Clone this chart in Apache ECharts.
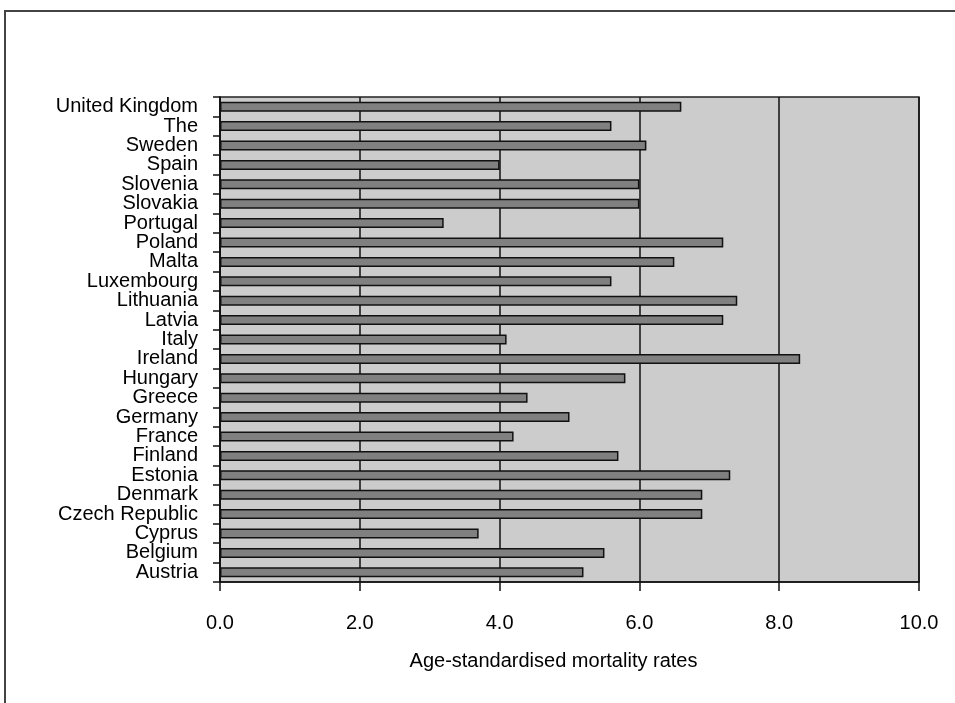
<!DOCTYPE html>
<html>
<head>
<meta charset="utf-8">
<script src="https://cdn.jsdelivr.net/npm/echarts@6/dist/echarts.min.js"></script>
<style>html,body{margin:0;padding:0;background:#fff;}#c{width:955px;height:703px;}</style>
</head>
<body>
<div id="c"></div>
<script>
var categories = ["Austria","Belgium","Cyprus","Czech Republic","Denmark","Estonia","Finland","France","Germany","Greece","Hungary","Ireland","Italy","Latvia","Lithuania","Luxembourg","Malta","Poland","Portugal","Slovakia","Slovenia","Spain","Sweden","The","United Kingdom"];
var rates = [5.2,5.5,3.7,6.9,6.9,7.3,5.7,4.2,5.0,4.4,5.8,8.3,4.1,7.2,7.4,5.6,6.5,7.2,3.2,6.0,6.0,4.0,6.1,5.6,6.6];
var xTicks = [0, 2, 4, 6, 8, 10];
var axisTitle = "Age-standardised mortality rates";

var font = "'Liberation Sans', Arial, Helvetica, sans-serif";
var chart = echarts.init(document.getElementById('c'), null, {renderer: 'canvas'});
chart.setOption({
  animation: false,
  backgroundColor: '#ffffff',
  graphic: [{
    type: 'rect', silent: true, z: -10,
    shape: {x: 5, y: 11, width: 1200, height: 1200},
    style: {fill: null, stroke: '#444', lineWidth: 2}
  }],
  grid: {
    left: 220, top: 97, right: 36, bottom: 121,
    show: true, backgroundColor: '#cccccc', borderColor: '#222', borderWidth: 1.5
  },
  xAxis: {
    type: 'value', min: xTicks[0], max: xTicks[xTicks.length - 1], interval: 2,
    name: axisTitle, nameLocation: 'middle', nameGap: 69,
    nameTextStyle: {color: '#000', fontSize: 20, fontFamily: font, padding: [0, 32, 0, 0]},
    axisLine: {show: true, lineStyle: {color: '#111', width: 1.5}},
    axisTick: {show: true, length: 9, lineStyle: {color: '#111', width: 1.5}},
    axisLabel: {color: '#000', fontSize: 20, fontFamily: font, margin: 31,
      formatter: function (v) { return v.toFixed(1); }},
    splitLine: {show: true, lineStyle: {color: '#111', width: 1.5}}
  },
  yAxis: {
    type: 'category', data: categories,
    axisLine: {show: true, lineStyle: {color: '#111', width: 1.5}},
    axisTick: {show: true, length: 7, alignWithLabel: false, lineStyle: {color: '#111', width: 1.5}},
    axisLabel: {color: '#000', fontSize: 20, fontFamily: font, margin: 22, interval: 0},
    splitLine: {show: false}
  },
  series: [{
    type: 'bar', data: rates, barWidth: 10,
    itemStyle: {color: '#808080', borderColor: '#111', borderWidth: 1.5}
  }]
});
</script>
</body>
</html>
